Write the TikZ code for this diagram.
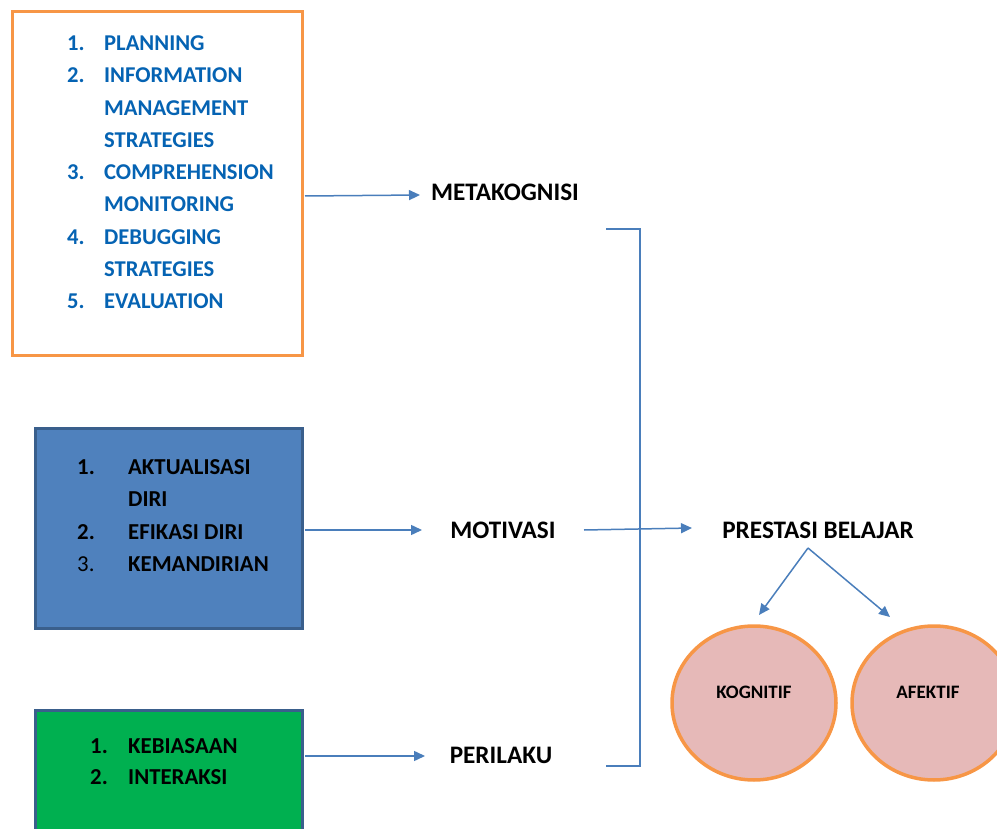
\documentclass[tikz,border=0pt]{standalone}
\usepackage{fontspec}
\setmainfont{Carlito}
\usetikzlibrary{arrows.meta,shapes.geometric}
\definecolor{orng}{HTML}{F79646}
\definecolor{listblue}{HTML}{0563B3}
\definecolor{boxblue}{HTML}{4F81BD}
\definecolor{boxedge}{HTML}{3A5F8C}
\definecolor{grn}{HTML}{00B050}
\definecolor{pink}{HTML}{E6B9B8}
\definecolor{arrblue}{HTML}{4A7EBB}
\tikzset{
  arr/.style={draw=arrblue,line width=1.5pt,-{Triangle[length=11pt,width=10pt]}},
  brk/.style={draw=arrblue,line width=1.5pt},
  lbl/.style={inner sep=0pt,font=\fontsize{25.2}{29}\selectfont\bfseries},
  listtxt/.style={inner sep=0pt,anchor=base west,align=left},
  circ/.style={ellipse,draw=orng,line width=3.5pt,fill=pink,minimum width=164pt,minimum height=154pt,inner sep=0pt},
  clbl/.style={inner sep=0pt,font=\fontsize{19}{21}\selectfont\bfseries}
}
\begin{document}
\begin{tikzpicture}[x=1pt,y=-1pt]
\useasboundingbox (0,0) rectangle (997,829);
\clip (0,0) rectangle (997,829);
% boxes
\node[draw=orng,line width=3pt,fill=white,minimum width=290pt,minimum height=344pt,inner sep=0pt] (box1) at (157,184) {};
\node[draw=boxedge,line width=3pt,fill=boxblue,minimum width=267pt,minimum height=200pt,inner sep=0pt] (box2) at (168.5,528) {};
\node[draw=boxedge,line width=3pt,fill=grn,minimum width=267pt,minimum height=160pt,inner sep=0pt] (box3) at (168.5,790) {};
% lists
\node[listtxt,text=listblue] (list1) at (67,50.5) {\fontsize{22.6}{32.3}\selectfont\bfseries
\begin{tabular}[t]{@{}p{37pt}@{}l@{}}
1. & PLANNING\\
2. & INFORMATION\\
   & MANAGEMENT\\
   & STRATEGIES\\
3. & COMPREHENSION\\
   & MONITORING\\
4. & DEBUGGING\\
   & STRATEGIES\\
5. & EVALUATION
\end{tabular}};
\node[listtxt] (list2) at (77,474.5) {\fontsize{22.8}{32.3}\selectfont\bfseries
\begin{tabular}[t]{@{}p{51pt}@{}l@{}}
1. & AKTUALISASI\\
   & DIRI\\
2. & EFIKASI DIRI\\
\mdseries 3. & KEMANDIRIAN
\end{tabular}};
\node[listtxt] (list3) at (90,753.5) {\fontsize{22.8}{31}\selectfont\bfseries
\begin{tabular}[t]{@{}p{38pt}@{}l@{}}
1. & KEBIASAAN\\
2. & INTERAKSI
\end{tabular}};
% labels
\node[lbl] (meta) at (505,192) {METAKOGNISI};
\node[lbl] (moti) at (503,530) {MOTIVASI};
\node[lbl] (peri) at (501,755) {PERILAKU};
\node[lbl] (pres) at (818,530) {PRESTASI BELAJAR};
% circles
\node[circ] (kog) at (754,703) {};
\node[circ] (afe) at (934,703) {};
\node[clbl] (kogt) at (754,692) {KOGNITIF};
\node[clbl] (afet) at (928,692) {AFEKTIF};
% bracket
\coordinate (btop) at (606,229);
\coordinate (bbot) at (606,766);
\coordinate (bx) at (640,0);
\draw[brk] (btop) -| (bx |- bbot) -- (bbot);
% arrows
\coordinate (a1s) at (305,196); \coordinate (a1e) at (420,195);
\draw[arr] (a1s) -- (a1e);
\coordinate (a2s) at (305,530); \coordinate (a2e) at (422,530);
\draw[arr] (a2s) -- (a2e);
\coordinate (a3s) at (305,756); \coordinate (a3e) at (425,756);
\draw[arr] (a3s) -- (a3e);
\coordinate (a4s) at (584,530); \coordinate (a4e) at (692,528);
\draw[arr] (a4s) -- (a4e);
\coordinate (ps) at (808,548);
\coordinate (k1) at (759,615);
\coordinate (k2) at (890,617);
\draw[arr] (ps) -- (k1);
\draw[arr] (ps) -- (k2);
\end{tikzpicture}
\end{document}
